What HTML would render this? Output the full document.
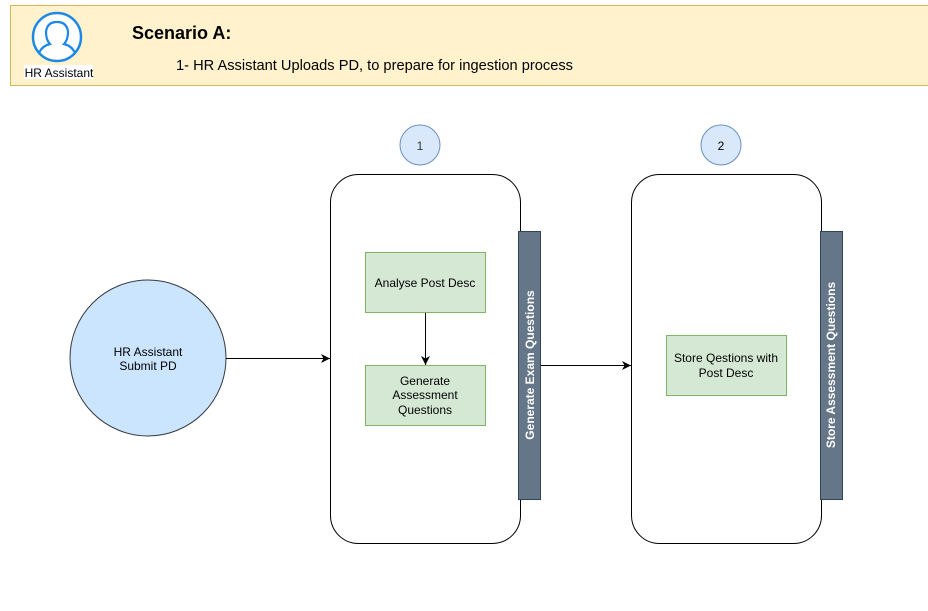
<!DOCTYPE html>
<html><head><meta charset="utf-8"><style>
html,body{margin:0;padding:0;background:#fff;}
svg{display:block;font-family:"Liberation Sans",Arial,sans-serif;}
</style></head><body>
<svg width="928" height="611" viewBox="0 0 928 611" xmlns="http://www.w3.org/2000/svg">
<defs><marker id="a" markerWidth="12" markerHeight="12" refX="10" refY="6" orient="auto" markerUnits="userSpaceOnUse"><path d="M1,1.5 L10,6 L1,10.5 L3.5,6 Z" fill="#000"/></marker></defs>
<rect x="10.5" y="5.5" width="920" height="80" fill="#fff2cc" stroke="#d6b656"/>
<circle cx="57" cy="37" r="24" fill="#fff" stroke="#1e88e5" stroke-width="2.5"/>
<path d="M39,53 Q42,46 50,44 Q46,40 46,32 Q47,22 57,22 Q67,22 68,32 Q68,40 64,44 Q72,46 75,53" fill="none" stroke="#1e88e5" stroke-width="2.2"/>
<rect x="24" y="65" width="69" height="14" fill="#fff"/>
<text x="59" y="77" font-size="12" text-anchor="middle">HR Assistant</text>
<text x="132" y="39" font-size="18" font-weight="bold">Scenario A:</text>
<text x="176" y="70" font-size="15" textLength="397" lengthAdjust="spacingAndGlyphs">1- HR Assistant Uploads PD, to prepare for ingestion process</text>

<circle cx="420" cy="145" r="20" fill="#dae8fc" stroke="#6c8ebf"/>
<text x="420" y="150" font-size="12" text-anchor="middle" fill="#333">1</text>
<circle cx="721" cy="145" r="20" fill="#dae8fc" stroke="#6c8ebf"/>
<text x="721" y="150" font-size="12" text-anchor="middle">2</text>

<rect x="330.5" y="174.5" width="190" height="369" rx="28" fill="#fff" stroke="#000"/>
<rect x="631.5" y="174.5" width="190" height="369" rx="28" fill="#fff" stroke="#000"/>
<rect x="518.5" y="231.5" width="22" height="268" fill="#647687" stroke="#314354"/>
<rect x="820.5" y="231.5" width="22" height="268" fill="#647687" stroke="#314354"/>
<text transform="translate(534,365) rotate(-90)" font-size="12" font-weight="bold" fill="#fff" text-anchor="middle">Generate  Exam Questions</text>
<text transform="translate(835,365) rotate(-90)" font-size="12" font-weight="bold" fill="#fff" text-anchor="middle">Store Assessment Questions</text>

<rect x="365.5" y="252.5" width="120" height="60" fill="#d5e8d4" stroke="#82b366"/>
<text x="425" y="287" font-size="12" text-anchor="middle">Analyse Post Desc</text>
<rect x="365.5" y="365.5" width="120" height="60" fill="#d5e8d4" stroke="#82b366"/>
<text x="425" y="385" font-size="12" text-anchor="middle">Generate</text>
<text x="425" y="399" font-size="12" text-anchor="middle">Assessment</text>
<text x="425" y="414" font-size="12" text-anchor="middle">Questions</text>
<rect x="666.5" y="335.5" width="120" height="60" fill="#d5e8d4" stroke="#82b366"/>
<text x="726" y="362" font-size="12" text-anchor="middle">Store Qestions with</text>
<text x="726" y="377" font-size="12" text-anchor="middle">Post Desc</text>

<circle cx="148" cy="358" r="78" fill="#cce5ff" stroke="#36393d"/>
<text x="148" y="356" font-size="12" text-anchor="middle">HR Assistant</text>
<text x="148" y="370" font-size="12" text-anchor="middle">Submit PD</text>

<line x1="226" y1="358.5" x2="330" y2="358.5" stroke="#000" marker-end="url(#a)"/>
<line x1="541" y1="365.5" x2="631" y2="365.5" stroke="#000" marker-end="url(#a)"/>
<line x1="425.5" y1="313" x2="425.5" y2="365" stroke="#000" marker-end="url(#a)"/>
</svg>
</body></html>
